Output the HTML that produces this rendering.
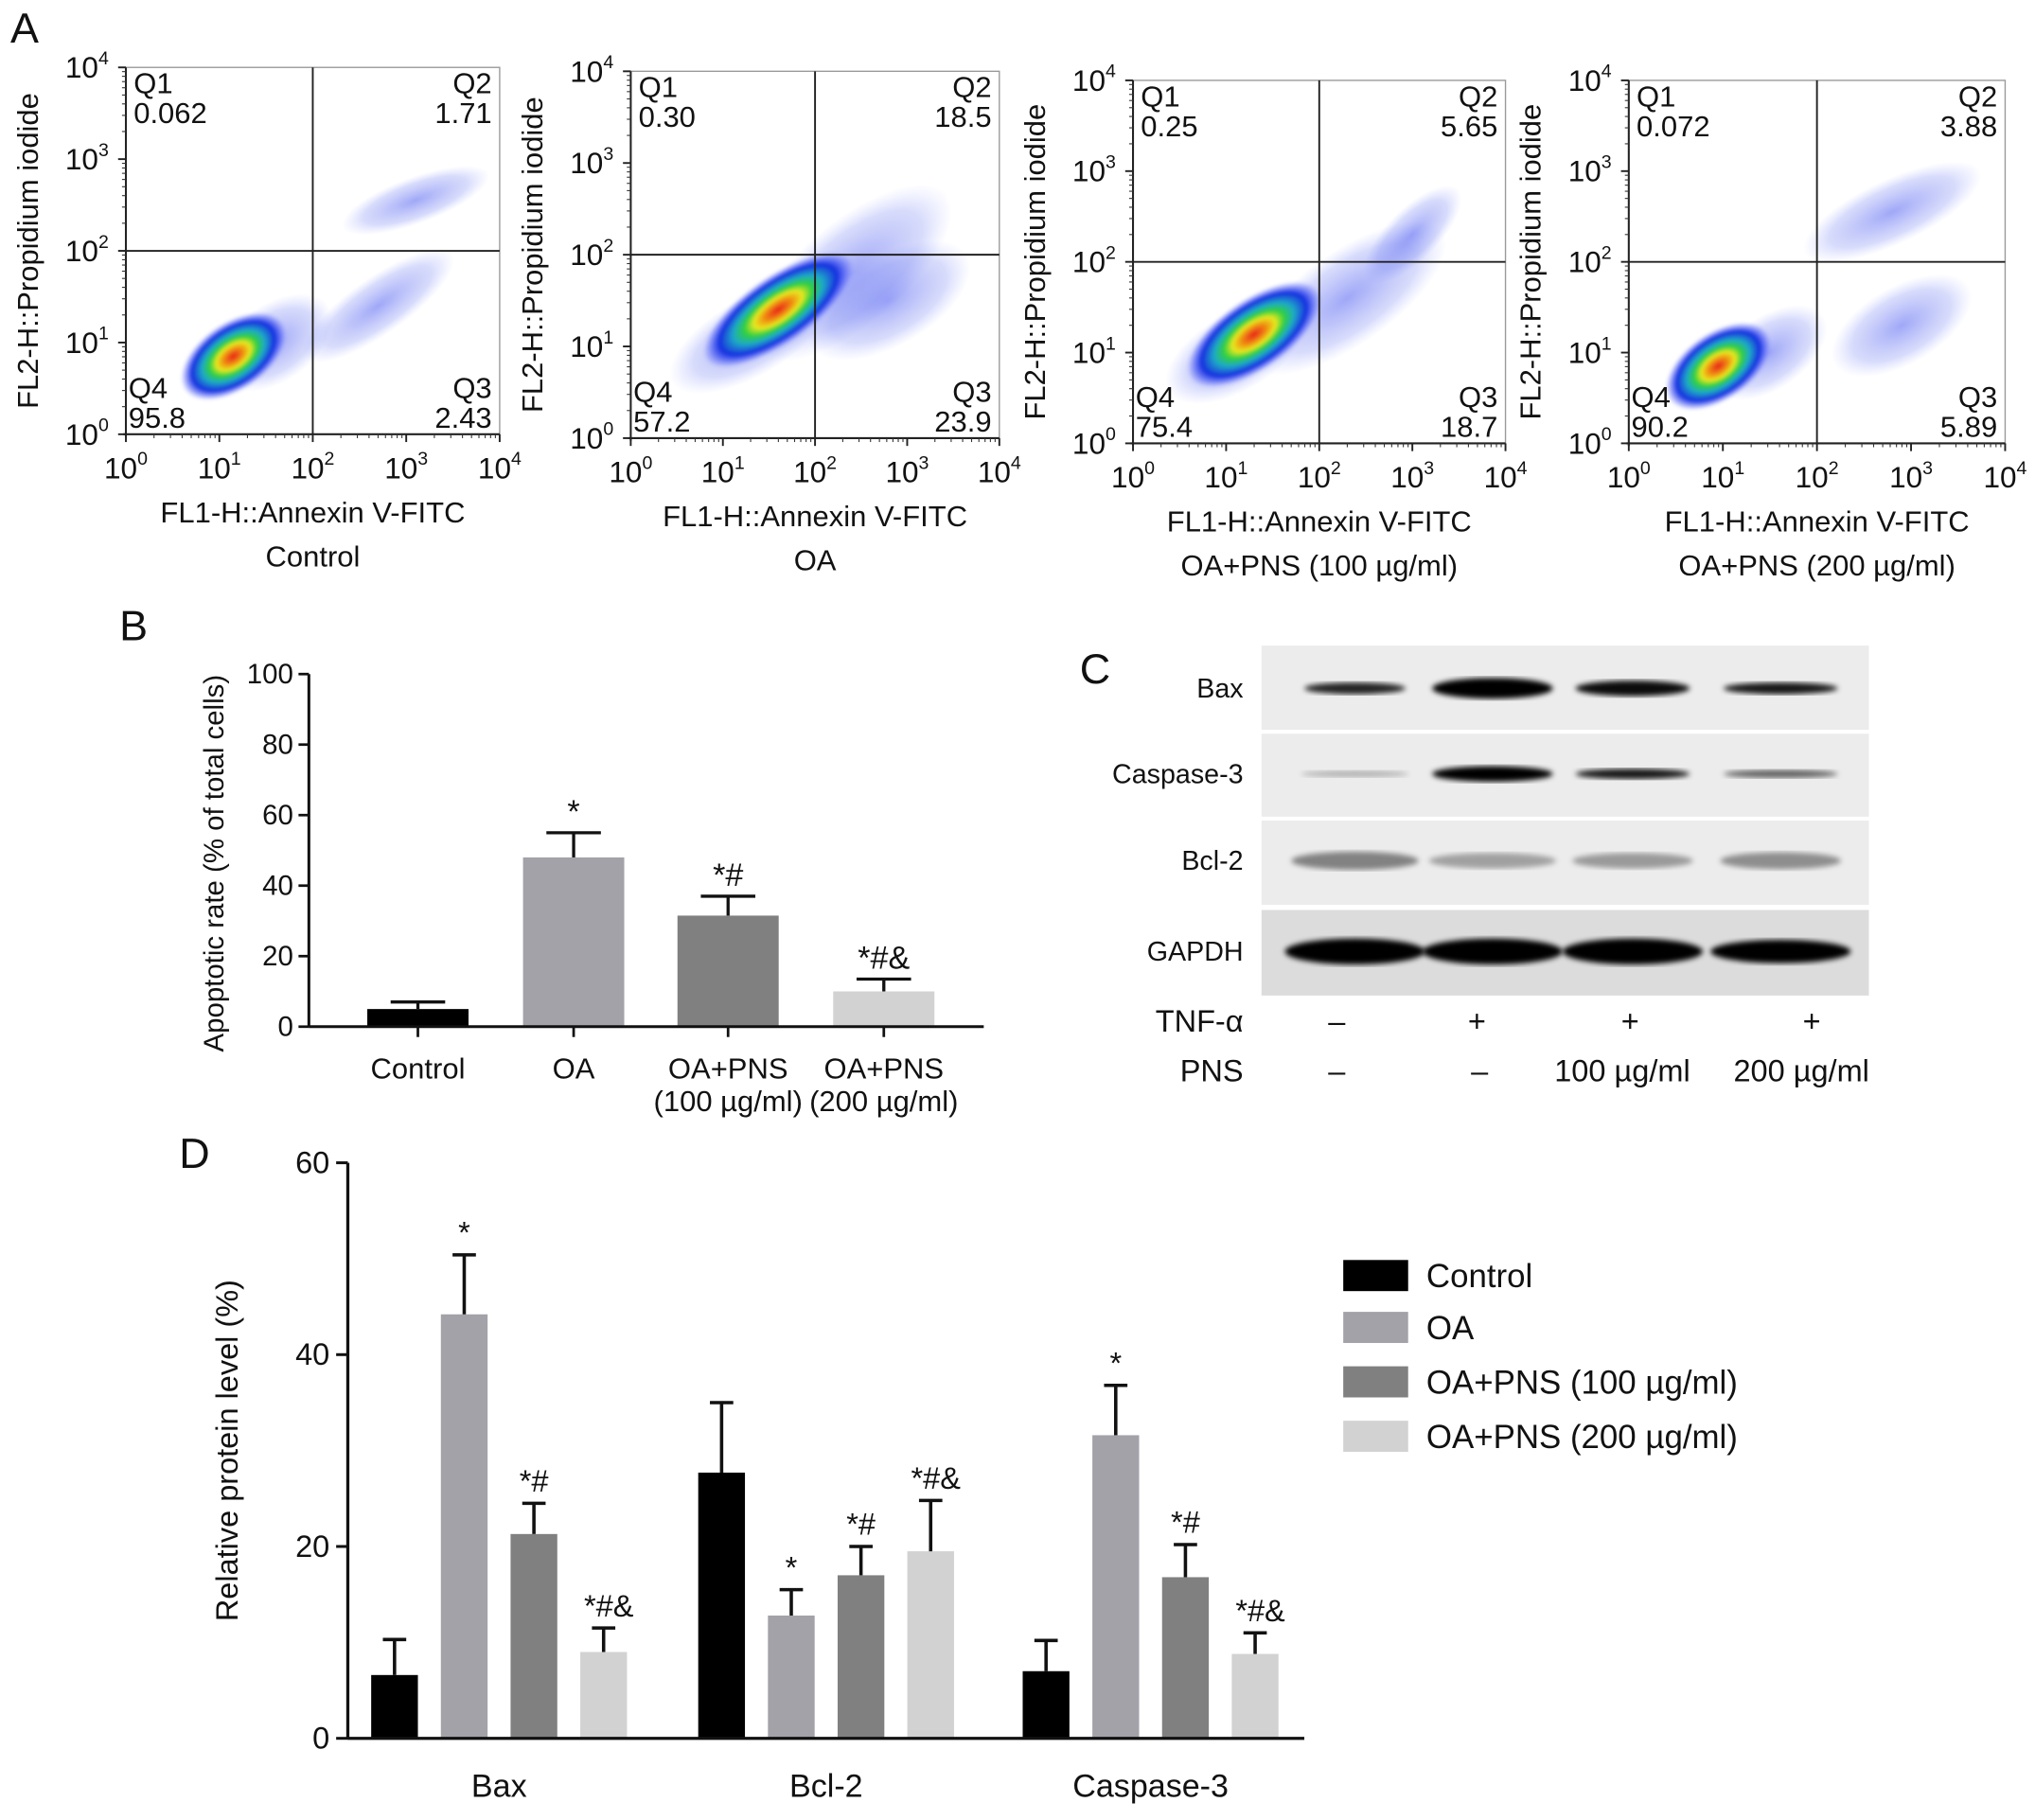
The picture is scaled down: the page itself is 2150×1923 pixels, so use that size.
<!DOCTYPE html>
<html><head><meta charset="utf-8">
<style>
html,body{margin:0;padding:0;background:#fff;}
svg{display:block;font-family:"Liberation Sans",Arial,sans-serif;}
</style></head>
<body>
<svg id="fig" width="2150" height="1923" viewBox="0 0 1568 1404" preserveAspectRatio="none" xmlns="http://www.w3.org/2000/svg">
<defs>
<radialGradient id="dens" cx="50%" cy="50%" r="50%">
<stop offset="0" stop-color="#e8201a"/>
<stop offset="0.18" stop-color="#f08a10"/>
<stop offset="0.32" stop-color="#e8e820"/>
<stop offset="0.45" stop-color="#30d040"/>
<stop offset="0.6" stop-color="#1ea8c8"/>
<stop offset="0.78" stop-color="#1830e0"/>
<stop offset="1" stop-color="#3040ff" stop-opacity="0"/>
</radialGradient>
<radialGradient id="sparse" cx="50%" cy="50%" r="50%">
<stop offset="0" stop-color="#4050f0" stop-opacity="0.5"/>
<stop offset="0.7" stop-color="#6070f0" stop-opacity="0.25"/>
<stop offset="1" stop-color="#8090ff" stop-opacity="0"/>
</radialGradient>
<filter id="blur2"><feGaussianBlur stdDeviation="2.2"/></filter>
<filter id="blur1"><feGaussianBlur stdDeviation="1.2"/></filter>
</defs>
<g id="root"></g>
</svg>
<script>
// ---------- Panel B data ----------
const bCats = ["Control","OA","OA+PNS|(100 µg/ml)","OA+PNS|(200 µg/ml)"];
const bVals = [5, 48, 31.5, 10];
const bErr = [7, 55, 37, 13.5];
const bSig = ["", "*", "*#", "*#&"];
const bTicks = [0,20,40,60,80,100];
// ---------- Panel D data ----------
const dGroups = ["Bax","Bcl-2","Caspase-3"];
const dSeries = ["Control","OA","OA+PNS (100 µg/ml)","OA+PNS (200 µg/ml)"];
const dControl = [6.6, 27.7, 7.0];
const dOA = [44.2, 12.8, 31.6];
const dPNS100 = [21.3, 17.0, 16.8];
const dPNS200 = [9.0, 19.5, 8.8];
const dErrControl = [10.3, 35.0, 10.2];
const dErrOA = [50.4, 15.5, 36.8];
const dErrPNS100 = [24.5, 20.0, 20.2];
const dErrPNS200 = [11.5, 24.8, 11.0];
const dSigOA = ["*","*","*"];
const dSig100 = ["*#","*#","*#"];
const dSig200 = ["*#&","*#&","*#&"];
const dTicks = [0,20,40,60];
// ---------- Panel A data ----------
const aTitles = ["Control","OA","OA+PNS (100 µg/ml)","OA+PNS (200 µg/ml)"];
const aQ1 = ["0.062","0.30","0.25","0.072"];
const aQ2 = ["1.71","18.5","5.65","3.88"];
const aQ3 = ["2.43","23.9","18.7","5.89"];
const aQ4 = ["95.8","57.2","75.4","90.2"];
const aCoreX = [1.15, 1.6, 1.3, 0.95];
const aCoreY = [0.85, 1.4, 1.2, 0.85];

const FS = 1.13;
const NS = "http://www.w3.org/2000/svg";
const root = document.getElementById("root");
function el(tag, attrs, parent, text){
  const e = document.createElementNS(NS, tag);
  for (const k in attrs) e.setAttribute(k, attrs[k]);
  if (text !== undefined) e.textContent = text;
  (parent || root).appendChild(e);
  return e;
}
function txt(x,y,s,size,anchor,parent,extra){
  return el("text", Object.assign({x:x,y:y,"font-size":size*FS,"text-anchor":anchor||"start",fill:"#111"}, extra||{}), parent, s);
}

[["A",8,33],["B",92,494],["C",832,527],["D",138,901]].forEach(p=>{
  const t = txt(p[1],p[2],p[0],29,"start");
  
  
});

// ---------- Panel A ----------
const aBoxes = [[97,385,52,335],[486,770,55,338],[873,1160,62,342],[1255,1545,62,342]];
function sup(parent,x,y,base,exp,size){
  const t = el("text",{x:x,y:y,"font-size":size,"text-anchor":"middle",fill:"#111"},parent);
  el("tspan",{},t,base);
  el("tspan",{"font-size":size*0.62,dy:-size*0.45},t,exp);
  return t;
}
aBoxes.forEach((b,i)=>{
  const g = el("g",{});
  
  
  const [x0,x1,y0,y1] = b;
  const sx = v => x0 + (x1-x0)*v/4;
  const sy = v => y1 - (y1-y0)*v/4;
  el("rect",{x:x0,y:y0,width:x1-x0,height:y1-y0,fill:"#fff",stroke:"#999","stroke-width":1},g);
  const cl = el("g",{},g);
  const cx = sx(aCoreX[i]), cy = sy(aCoreY[i]);
  function sp(lx,ly,rx,ry,rot){
    el("ellipse",{cx:sx(lx),cy:sy(ly),rx:rx,ry:ry,transform:`rotate(${rot} ${sx(lx)} ${sy(ly)})`,fill:"url(#sparse)"},cl);
  }
  if(i===0){ sp(2.7,1.4,70,22,-35); sp(3.1,2.55,60,18,-20); sp(1.6,1.0,50,30,-35); }
  else if(i===1){ sp(2.4,1.8,95,40,-40); sp(2.8,1.5,70,35,-30); sp(1.3,1.1,70,30,-30); }
  else if(i===2){ sp(2.3,1.6,90,36,-35); sp(3.0,2.3,50,20,-45); sp(1.1,1.0,60,30,-30); }
  else { sp(2.8,2.55,75,25,-25); sp(2.9,1.3,60,30,-30); sp(1.5,1.0,50,28,-35); }
  const rx = i===1?68:(i===2?60:46), ry = i===1?26:(i===2?27:26);
  el("ellipse",{cx:cx,cy:cy,rx:rx,ry:ry,transform:`rotate(-35 ${cx} ${cy})`,fill:"url(#dens)",filter:"url(#blur1)"},cl);
  el("line",{x1:sx(2),x2:sx(2),y1:y0,y2:y1,stroke:"#222","stroke-width":1.4},g);
  el("line",{x1:x0,x2:x1,y1:sy(2),y2:sy(2),stroke:"#222","stroke-width":1.4},g);
  el("line",{x1:x0,x2:x0,y1:y0,y2:y1+2,stroke:"#222","stroke-width":1.5},g);
  el("line",{x1:x0-2,x2:x1,y1:y1,y2:y1,stroke:"#222","stroke-width":1.5},g);
  for(let d=0; d<=4; d++){
    el("line",{x1:sx(d),x2:sx(d),y1:y1,y2:y1+6,stroke:"#222","stroke-width":1.4},g);
    el("line",{x1:x0-6,x2:x0,y1:sy(d),y2:sy(d),stroke:"#222","stroke-width":1.4},g);
    sup(g,sx(d),y1+34,"10",String(d),23);
    sup(g,x0-30,sy(d)+8,"10",String(d),23);
    if(d<4) for(let m=2;m<10;m++){
      const v = d+Math.log10(m);
      el("line",{x1:sx(v),x2:sx(v),y1:y1,y2:y1+3,stroke:"#333","stroke-width":0.8},g);
      el("line",{x1:x0-3,x2:x0,y1:sy(v),y2:sy(v),stroke:"#333","stroke-width":0.8},g);
    }
  }
  txt(x0+6,y0+20,"Q1",20,"start",g); txt(x0+6,y0+43,aQ1[i],20,"start",g);
  txt(x1-6,y0+20,"Q2",20,"end",g); txt(x1-6,y0+43,aQ2[i],20,"end",g);
  txt(x0+2,y1-28,"Q4",20,"start",g); txt(x0+2,y1-5,aQ4[i],20,"start",g);
  txt(x1-6,y1-28,"Q3",20,"end",g); txt(x1-6,y1-5,aQ3[i],20,"end",g);
  txt((x0+x1)/2,y1+68,"FL1-H::Annexin V-FITC",20,"middle",g);
  txt((x0+x1)/2,y1+102,aTitles[i],20,"middle",g);
  txt(0,0,"FL2-H::Propidium iodide",20,"middle",g,{transform:`translate(${x0-68},${(y0+y1)/2}) rotate(-90)`});
});

// ---------- Panel B ----------
(function(){
  const g = el("g",{});
  
  
  const X0 = 238, X1 = 758, Ytop = 520, Ybot = 792;
  const y = v => Ybot - (Ybot-Ytop)*v/100;
  const centers = [322,442,561,681];
  const cols = ["#000","#a2a2a8","#808080","#d2d2d2"];
  const w = 78;
  bVals.forEach((v,i)=>{
    const r = el("rect",{x:centers[i]-w/2,y:y(v),width:w,height:Ybot-y(v),fill:cols[i]},g);
    
    
    el("line",{x1:centers[i],x2:centers[i],y1:y(v),y2:y(bErr[i]),stroke:"#111","stroke-width":2.4},g);
    el("line",{x1:centers[i]-21,x2:centers[i]+21,y1:y(bErr[i]),y2:y(bErr[i]),stroke:"#111","stroke-width":2.4},g);
    if(bSig[i]) txt(centers[i],y(bErr[i])-8,bSig[i],22,"middle",g);
    const parts = bCats[i].split("|");
    txt(centers[i],832,parts[0],20,"middle",g);
    if(parts[1]) txt(centers[i],857,parts[1],20,"middle",g);
    el("line",{x1:centers[i],x2:centers[i],y1:Ybot,y2:Ybot+8,stroke:"#111","stroke-width":2},g);
  });
  el("line",{x1:X0,x2:X0,y1:Ytop,y2:Ybot,stroke:"#111","stroke-width":2.2},g);
  el("line",{x1:X0,x2:X1,y1:Ybot,y2:Ybot,stroke:"#111","stroke-width":2.2},g);
  bTicks.forEach(t=>{
    el("line",{x1:X0-8,x2:X0,y1:y(t),y2:y(t),stroke:"#111","stroke-width":2},g);
    txt(X0-12,y(t)+7,String(t),19,"end",g);
  });
  txt(0,0,"Apoptotic rate (% of total cells)",19,"middle",g,{transform:`translate(172,${(Ytop+Ybot)/2+10}) rotate(-90)`});
})();

// ---------- Panel C ----------
(function(){
  const g = el("g",{});
  
  
  const lanes = [1044,1150,1258,1372];
  const rows = [
    {name:"Bax",y0:498,y1:563,by:531,h:[9,16,12,9],op:[0.85,1,0.95,0.9],w:[70,85,80,80]},
    {name:"Caspase-3",y0:566,y1:630,by:597,h:[5,12,8,6],op:[0.25,1,0.9,0.6],w:[75,85,80,80]},
    {name:"Bcl-2",y0:633,y1:698,by:664,h:[14,12,12,13],op:[0.45,0.32,0.35,0.4],w:[90,90,85,85]},
    {name:"GAPDH",y0:702,y1:768,by:734,h:[20,20,20,18],op:[1,1,1,1],w:[100,100,100,100]}
  ];
  rows.forEach(r=>{
    el("rect",{x:972,y:r.y0,width:468,height:r.y1-r.y0,fill:r.name==="GAPDH"?"#dcdcdc":"#ececec"},g);
    txt(958,r.by+7,r.name,18.5,"end",g);
    lanes.forEach((lx,j)=>{
      const b = el("ellipse",{cx:lx,cy:r.by,rx:r.w[j]/2+4,ry:r.h[j]/2,fill:"#000","fill-opacity":r.op[j],filter:"url(#blur2)"},g);
      
      
    });
  });
  txt(958,796,"TNF-α",21,"end",g);
  txt(958,834,"PNS",21,"end",g);
  const tnf = ["–","+","+","+"], pns = ["–","–","100 µg/ml","200 µg/ml"];
  const lx2 = [1030,1138,1256,1396], lx3=[1030,1140,1250,1388];
  tnf.forEach((s,j)=>txt(lx2[j],796,s,21,"middle",g));
  pns.forEach((s,j)=>txt(lx3[j],834,s,21,"middle",g));
})();

// ---------- Panel D ----------
(function(){
  const g = el("g",{});
  
  
  const X0 = 268, X1 = 1005, Ytop = 897, Ybot = 1341;
  const y = v => Ybot - (Ybot-Ytop)*v/60;
  const series = [dControl,dOA,dPNS100,dPNS200];
  const errs = [dErrControl,dErrOA,dErrPNS100,dErrPNS200];
  const sigs = [null,dSigOA,dSig100,dSig200];
  const cols = ["#000","#a2a2a8","#808080","#d2d2d2"];
  const groupStart = [286,538,788];
  const w = 36, step = 53.7;
  dGroups.forEach((gname,gi)=>{
    series.forEach((s,si)=>{
      const x = groupStart[gi] + si*step;
      const v = s[gi], e = errs[si][gi];
      const r = el("rect",{x:x,y:y(v),width:w,height:Ybot-y(v),fill:cols[si]},g);
      
      
      const c = x + w/2;
      el("line",{x1:c,x2:c,y1:y(v),y2:y(e),stroke:"#111","stroke-width":2.6},g);
      el("line",{x1:c-9,x2:c+9,y1:y(e),y2:y(e),stroke:"#111","stroke-width":2.6},g);
      if(sigs[si]) txt(c+(si===3?4:0),y(e)-9,sigs[si][gi],21,"middle",g);
    });
    const gc = groupStart[gi] + (3*step+w)/2;
    txt(gc,1386,gname,22,"middle",g);
  });
  el("line",{x1:X0,x2:X0,y1:Ytop,y2:Ybot,stroke:"#111","stroke-width":2.4},g);
  el("line",{x1:X0,x2:X1,y1:Ybot,y2:Ybot,stroke:"#111","stroke-width":2.4},g);
  dTicks.forEach(t=>{
    el("line",{x1:X0-9,x2:X0,y1:y(t),y2:y(t),stroke:"#111","stroke-width":2.2},g);
    txt(X0-14,y(t)+8,String(t),21,"end",g);
  });
  txt(0,0,"Relative protein level (%)",21,"middle",g,{transform:`translate(183,${(Ytop+Ybot)/2}) rotate(-90)`});
  const lg = el("g",{},g);
  
  
  const ly = [984,1024,1066,1108];
  dSeries.forEach((s,i)=>{
    const sw = el("rect",{x:1035,y:ly[i]-12,width:50,height:24,fill:cols[i]},lg);
    
    
    txt(1099,ly[i]+9,s,22.5,"start",lg);
  });
})();
</script>
</body></html>
